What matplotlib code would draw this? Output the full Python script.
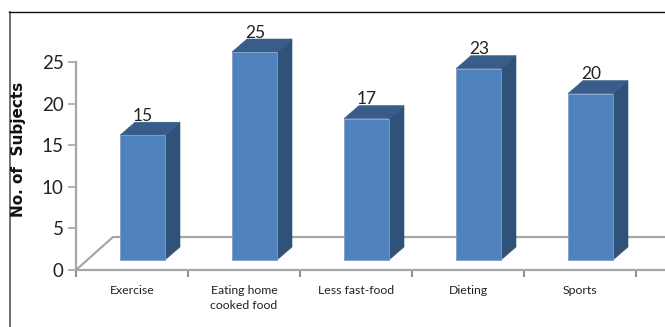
import numpy as np
import matplotlib
matplotlib.use('Agg')
import matplotlib.pyplot as plt
from matplotlib.patches import Polygon
from matplotlib.lines import Line2D

categories = ['Exercise', 'Eating home\ncooked food', 'Less fast-food', 'Dieting', 'Sports']
subjects = [15, 25, 17, 23, 20]
y_ticks = [0, 5, 10, 15, 20, 25]

W, H = 665, 327
GREY = '#a6a6a6'
FRONT = '#4f81bd'
SIDE = '#2f5279'
TOP = '#385d8a'
EDGE = '#7d9fcb'

plt.rcParams['font.family'] = ['Lato', 'DejaVu Sans']

fig = plt.figure(figsize=(W / 100, H / 100), dpi=100)
ax = fig.add_axes([76 / W, 57 / H, 589 / W, 208 / H])
ax.set_xlim(0, 589 / 112)
ax.set_ylim(0, 25)

# size of one data unit in pixels, the fake 3d depth is given in pixels
px_x = 112
px_y = 208 / 25
dx = 15 / px_x
dy = 13 / px_y
lift = 10 / px_y
bar_w = 45 / px_x
shift = 10.5 / px_x

xs = np.arange(len(categories)) + 0.5 + shift

# floor of the 3d box
floor_x = 37 / px_x
floor_y = 33 / px_y
ax.plot([0, floor_x, 589 / 112], [0, floor_y, floor_y], color=GREY, lw=1.6,
        clip_on=False, zorder=1, solid_joinstyle='miter')

ax.bar(xs, subjects, width=bar_w, bottom=lift, color=FRONT, edgecolor=EDGE,
       linewidth=0.6, zorder=3, clip_on=False)

for x, v in zip(xs, subjects):
    left = x - bar_w / 2
    right = x + bar_w / 2
    top = v + lift
    ax.add_patch(Polygon([(right, lift), (right + dx, lift + dy), (right + dx, top + dy), (right, top)],
                         closed=True, facecolor=SIDE, edgecolor=SIDE, lw=0.4, zorder=2, clip_on=False))
    ax.add_patch(Polygon([(left, top), (left + dx, top + dy), (right + dx, top + dy), (right, top)],
                         closed=True, facecolor=TOP, edgecolor=TOP, lw=0.4, zorder=2, clip_on=False))
    ax.text(x + 0.005, top + dy - 0.2, str(v), ha='center', va='bottom', fontsize=12.5,
            color='#222222', zorder=4, clip_on=False)

for side in ['top', 'right']:
    ax.spines[side].set_visible(False)
for side in ['left', 'bottom']:
    ax.spines[side].set_color(GREY)
    ax.spines[side].set_linewidth(1.6)

ax.set_yticks(y_ticks)
ax.tick_params(axis='y', length=6, width=1.2, color=GREY, labelsize=13.5, labelcolor='#222222', pad=3)

# ticks sit between the categories, labels in the middle
ax.set_xticks(np.arange(len(categories) + 1))
ax.set_xticklabels([])
ax.set_xticks(np.arange(len(categories)) + 0.5, minor=True)
ax.set_xticklabels(categories, minor=True, fontsize=8.8, color='#222222', linespacing=1.4, va='top')
ax.tick_params(axis='x', which='major', length=5, width=1.2, color='#777777')
ax.tick_params(axis='x', which='minor', length=0, pad=11)

fig.text(19 / W, 1 - 149 / H, 'No. of  Subjects', rotation=90, ha='center', va='center',
         fontsize=11, fontweight='bold', family='DejaVu Sans', color='#111111')

# outer frame left over from the page
fig.add_artist(Line2D([9.5 / W, 9.5 / W], [0, 1 - 11.5 / H], color='#666666', lw=1.3))
fig.add_artist(Line2D([9 / W, 1], [1 - 11.5 / H, 1 - 11.5 / H], color='#111111', lw=1.0))

fig.savefig('out.png', dpi=100)
